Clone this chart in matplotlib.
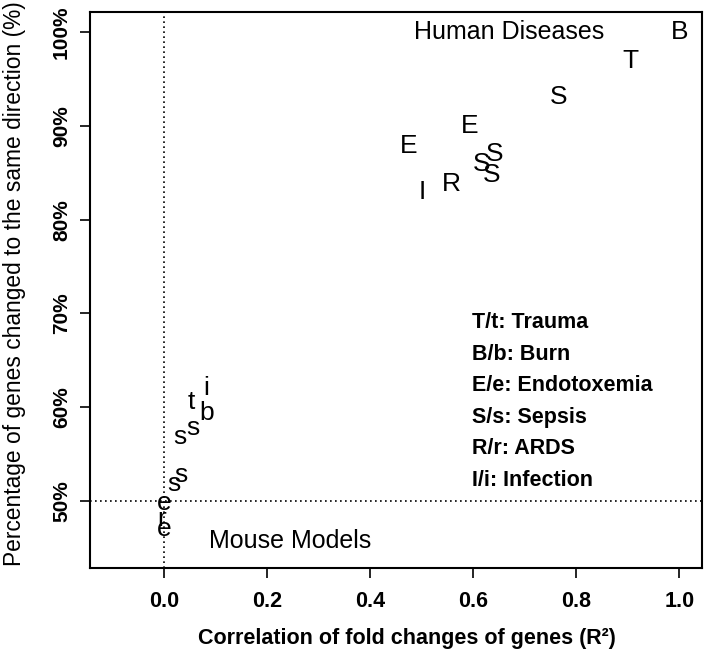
import matplotlib
matplotlib.use('Agg')
import matplotlib.pyplot as plt
from matplotlib.ticker import FuncFormatter

plt.rcParams['font.family'] = ['Liberation Sans', 'DejaVu Sans']

# human diseases (upper case letters)
human_labels = ['B', 'T', 'S', 'E', 'E', 'S', 'S', 'S', 'R', 'I']
human_r2 = [1.0, 0.905, 0.765, 0.593, 0.475, 0.617, 0.642, 0.636, 0.558, 0.50]
human_pct = [100.0, 97.0, 93.1, 90.0, 87.9, 85.9, 87.0, 84.8, 83.8, 83.0]

# mouse models (lower case letters)
mouse_labels = ['i', 't', 'b', 's', 's', 's', 's', 'e', 'r', 'e']
mouse_r2 = [0.082, 0.053, 0.082, 0.056, 0.031, 0.033, 0.019, 0.0, -0.005, 0.0]
mouse_pct = [62.0, 60.5, 59.4, 57.8, 56.8, 52.7, 51.8, 49.8, 48.0, 47.0]

legend_lines = ['T/t: Trauma', 'B/b: Burn', 'E/e: Endotoxemia',
                'S/s: Sepsis', 'R/r: ARDS', 'I/i: Infection']

x_ticks = [0.0, 0.2, 0.4, 0.6, 0.8, 1.0]
y_ticks = [50, 60, 70, 80, 90, 100]

fig = plt.figure(figsize=(7.05, 6.59), dpi=100)
ax = fig.add_axes([0.1277, 0.138, 0.868, 0.844])

for lab, x, y in zip(human_labels, human_r2, human_pct):
    ax.text(x, y, lab, ha='center', va='center', fontsize=19)
for lab, x, y in zip(mouse_labels, mouse_r2, mouse_pct):
    ax.text(x, y, lab, ha='center', va='center', fontsize=19)

ax.axvline(0, color='black', linestyle=(0, (1, 2)), linewidth=1.2)
ax.axhline(50, color='black', linestyle=(0, (1, 2)), linewidth=1.2)

ax.text(0.67, 100.1, 'Human Diseases', ha='center', va='center', fontsize=18)
ax.text(0.245, 45.7, 'Mouse Models', ha='center', va='center', fontsize=18)

for i, line in enumerate(legend_lines):
    ax.text(0.597, 69.0 - i * 3.37, line, ha='left', va='center',
            fontsize=15.5, fontweight='bold')

ax.set_xlim(-0.144, 1.044)
ax.set_ylim(42.8, 102.2)
ax.set_xticks(x_ticks)
ax.set_yticks(y_ticks)
ax.xaxis.set_major_formatter(FuncFormatter(lambda v, p: '%.1f' % v))
ax.yaxis.set_major_formatter(FuncFormatter(lambda v, p: '%d%%' % v))
ax.tick_params(direction='out', length=7.2, width=1.2)
ax.tick_params(axis='x', labelsize=15.5, pad=9)
ax.tick_params(axis='y', labelsize=15, pad=6.5, labelrotation=90)
for lbl in ax.get_xticklabels() + ax.get_yticklabels():
    lbl.set_fontweight('bold')
for lbl in ax.get_yticklabels():
    lbl.set_va('center')
for sp in ax.spines.values():
    sp.set_linewidth(1.5)

ax.set_xlabel('Correlation of fold changes of genes (R²)', fontsize=15.5,
              fontweight='bold')
ax.xaxis.set_label_coords(0.518, -0.108)
ax.set_ylabel('Percentage of genes changed to the same direction (%)',
              fontsize=16.4)
ax.yaxis.set_label_coords(-0.104, 0.511)

fig.savefig('out.png', dpi=100)
